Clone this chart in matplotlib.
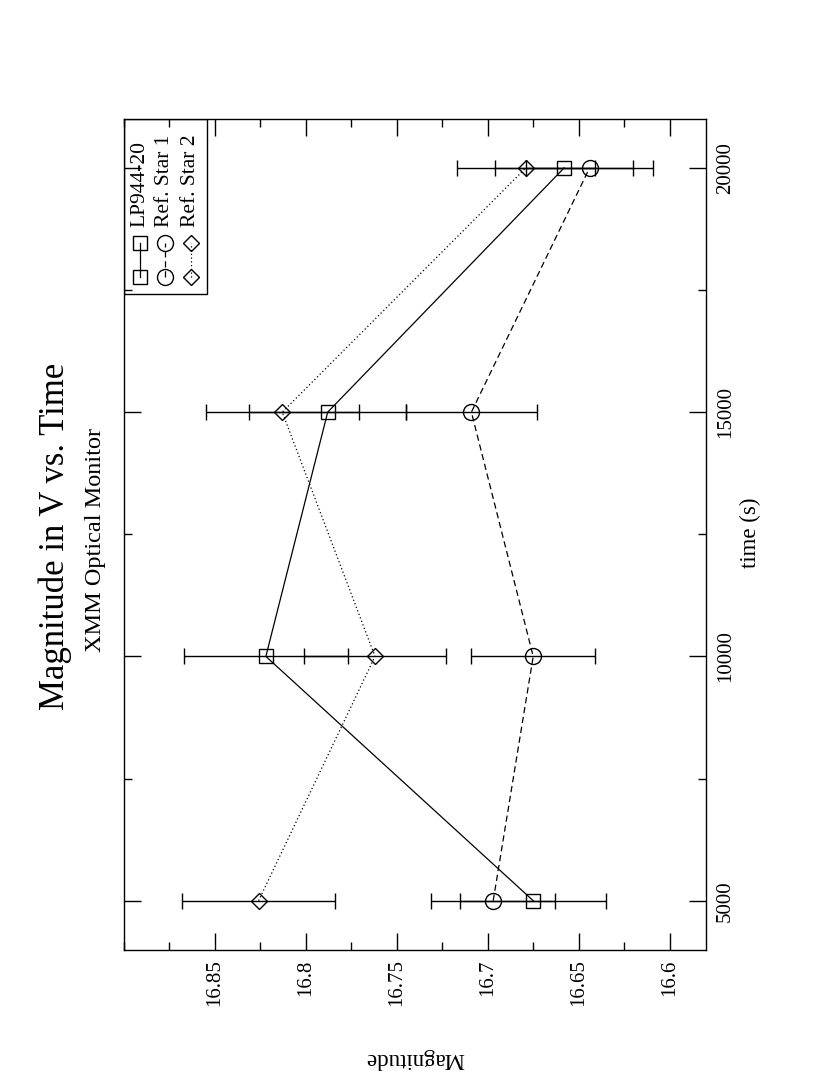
import numpy as np
import matplotlib
matplotlib.use("Agg")
import matplotlib.pyplot as plt
from matplotlib.patches import Rectangle
from matplotlib.ticker import MultipleLocator, FixedLocator, FuncFormatter

plt.rcParams["font.family"] = ["Liberation Serif", "DejaVu Serif"]

# Data (time in s, V magnitude)
time_s = [5000, 10000, 15000, 20000]
lp_mag = [16.675, 16.822, 16.788, 16.658]
lp_err = [0.040, 0.045, 0.043, 0.038]
ref1_mag = [16.697, 16.675, 16.709, 16.644]
ref1_err = [0.034, 0.034, 0.036, 0.035]
ref2_mag = [16.826, 16.762, 16.813, 16.679]
ref2_err = [0.042, 0.039, 0.042, 0.038]

series_names = ["LP944-20", "Ref. Star 1", "Ref. Star 2"]
series_mag = [lp_mag, ref1_mag, ref2_mag]
series_err = [lp_err, ref1_err, ref2_err]

mag_ticks = [16.85, 16.8, 16.75, 16.7, 16.65, 16.6]
time_ticks = [5000, 10000, 15000, 20000]

# page is a landscape plot turned 90 degrees, so magnitude runs across and time up
styles = [
    dict(marker="s", ms=10.5, ls="-"),
    dict(marker="o", ms=11.5, ls=(0, (5, 3))),
    dict(marker="D", ms=8.2, ls=(0, (1, 2))),
]

fig = plt.figure(figsize=(8.3, 10.75), dpi=100)
ax = fig.add_axes([0.1494, 0.1167, 0.7012, 0.7726])

for mag, err, st in zip(series_mag, series_err, styles):
    ax.errorbar(mag, time_s, xerr=err, fmt="none", ecolor="black",
                elinewidth=1.0, capsize=5.8, capthick=1.0, zorder=2)
    ax.plot(mag, time_s, color="black", lw=0.9, linestyle=st["ls"],
            marker=st["marker"], ms=st["ms"], mfc="none", mec="black",
            mew=1.0, zorder=3)

ax.set_xlim(16.9, 16.58)
ax.set_ylim(4000, 21000)

ax.xaxis.set_major_locator(FixedLocator(mag_ticks))
ax.xaxis.set_minor_locator(MultipleLocator(0.025))
ax.xaxis.set_major_formatter(FuncFormatter(lambda v, p: f"{v:g}"))
ax.yaxis.set_major_locator(FixedLocator(time_ticks))
ax.yaxis.set_minor_locator(MultipleLocator(2500))

ax.tick_params(which="both", direction="in", top=True, bottom=True,
               left=True, right=True, labelleft=False, labelright=True,
               labelbottom=True, labeltop=False, width=1.0, labelsize=15)
ax.tick_params(which="major", length=12)
ax.tick_params(which="minor", length=6)
ax.tick_params(axis="x", labelrotation=90, pad=7)
ax.tick_params(axis="y", labelrotation=90, pad=7)
for lab in ax.get_yticklabels():
    lab.set_va("center")

for sp in ax.spines.values():
    sp.set_linewidth(1.0)

# hand-drawn legend, turned like the rest of the page
ax.add_patch(Rectangle((0, 0.7893), 0.1426, 0.2107, transform=ax.transAxes,
                       fill=False, lw=1.0, edgecolor="black", zorder=5))
legend_x = [0.0275, 0.0704, 0.1146]
for lx, name, st in zip(legend_x, series_names, styles):
    ax.plot([lx, lx], [0.8098, 0.8507], transform=ax.transAxes, color="black",
            lw=0.9, linestyle=st["ls"], marker=st["marker"], ms=st["ms"],
            mfc="none", mec="black", mew=1.0, zorder=6)
    ax.text(lx, 0.8703, name, transform=ax.transAxes, rotation=90,
            ha="center", va="bottom", fontsize=15.5, zorder=6)

# titles and axis labels
fig.text(55 / 830, 1 - 536 / 1075, "Magnitude in V vs. Time", rotation=90,
         ha="center", va="center", fontsize=25)
fig.text(95 / 830, 1 - 540 / 1075, "XMM Optical Monitor", rotation=90,
         ha="center", va="center", fontsize=17.5)
fig.text(750 / 830, 1 - 533 / 1075, "time (s)", rotation=90,
         ha="center", va="center", fontsize=16.5)
fig.text(415 / 830, 1 - 1059 / 1075, "Magnitude", rotation=180,
         ha="center", va="center", fontsize=16.5)

fig.savefig("out.png", dpi=100, facecolor="white")
